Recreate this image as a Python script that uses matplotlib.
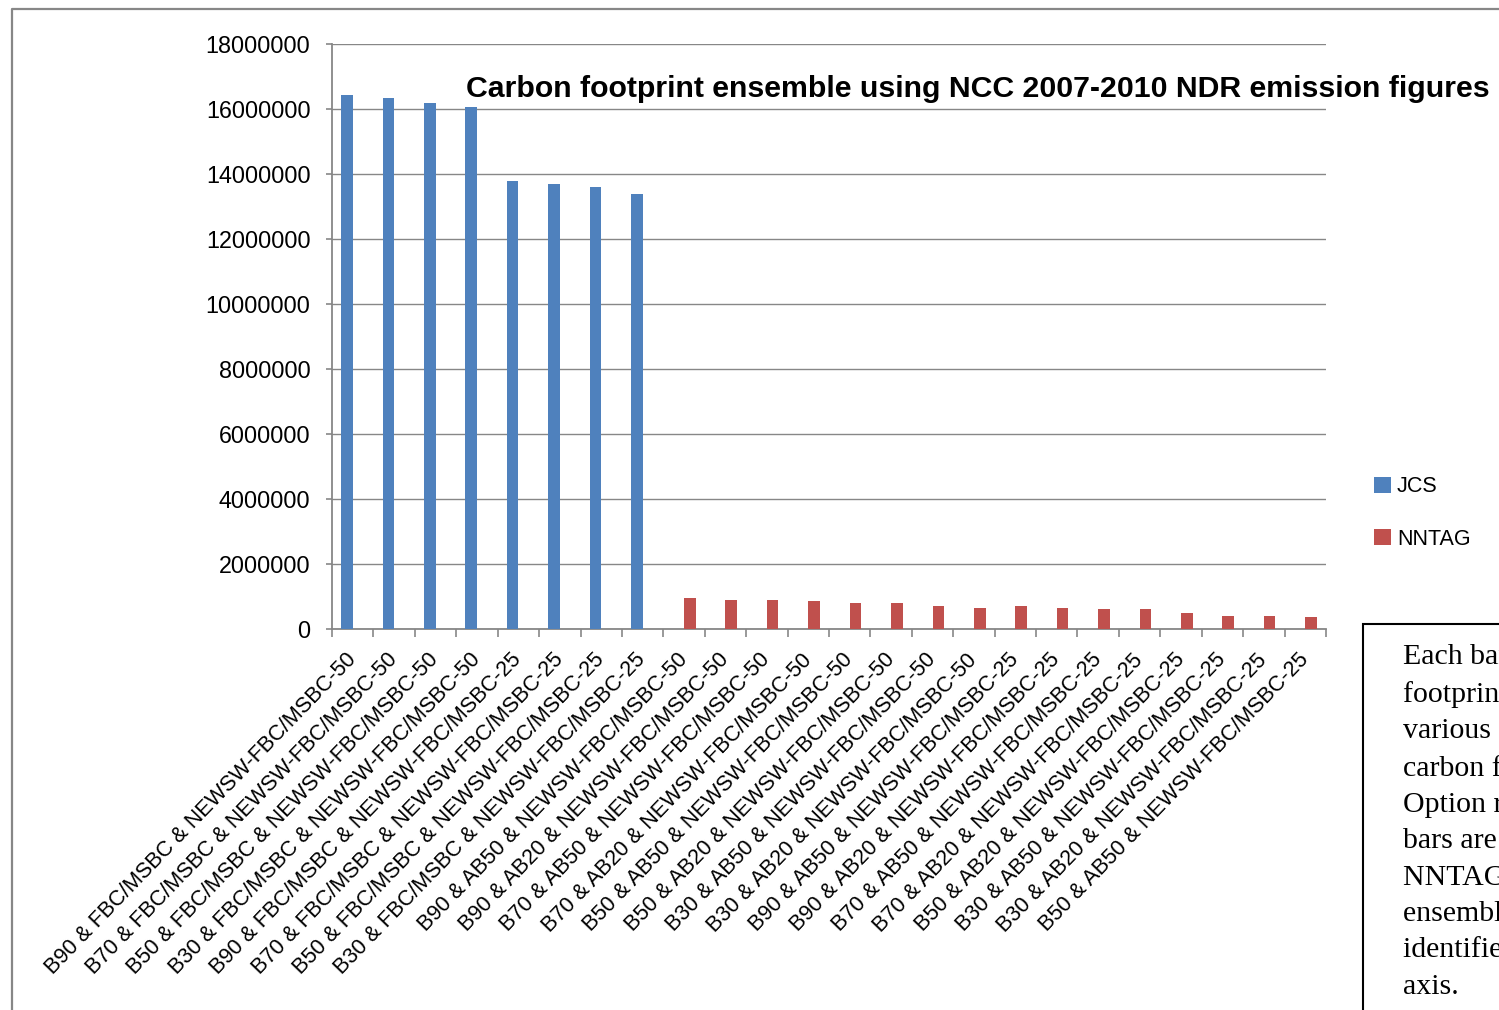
import numpy as np
import matplotlib.pyplot as plt
from matplotlib.patches import Rectangle
from matplotlib.lines import Line2D

plt.rcParams['font.family'] = ['Liberation Sans', 'DejaVu Sans']

# Ensemble members (x axis)
categories = [
    'B90 & FBC/MSBC & NEWSW-FBC/MSBC-50',
    'B70 & FBC/MSBC & NEWSW-FBC/MSBC-50',
    'B50 & FBC/MSBC & NEWSW-FBC/MSBC-50',
    'B30 & FBC/MSBC & NEWSW-FBC/MSBC-50',
    'B90 & FBC/MSBC & NEWSW-FBC/MSBC-25',
    'B70 & FBC/MSBC & NEWSW-FBC/MSBC-25',
    'B50 & FBC/MSBC & NEWSW-FBC/MSBC-25',
    'B30 & FBC/MSBC & NEWSW-FBC/MSBC-25',
    'B90 & AB50 & NEWSW-FBC/MSBC-50',
    'B90 & AB20 & NEWSW-FBC/MSBC-50',
    'B70 & AB50 & NEWSW-FBC/MSBC-50',
    'B70 & AB20 & NEWSW-FBC/MSBC-50',
    'B50 & AB50 & NEWSW-FBC/MSBC-50',
    'B50 & AB20 & NEWSW-FBC/MSBC-50',
    'B30 & AB50 & NEWSW-FBC/MSBC-50',
    'B30 & AB20 & NEWSW-FBC/MSBC-50',
    'B90 & AB50 & NEWSW-FBC/MSBC-25',
    'B90 & AB20 & NEWSW-FBC/MSBC-25',
    'B70 & AB50 & NEWSW-FBC/MSBC-25',
    'B70 & AB20 & NEWSW-FBC/MSBC-25',
    'B50 & AB20 & NEWSW-FBC/MSBC-25',
    'B30 & AB50 & NEWSW-FBC/MSBC-25',
    'B30 & AB20 & NEWSW-FBC/MSBC-25',
    'B50 & AB50 & NEWSW-FBC/MSBC-25',
]

# Carbon footprint per member (JCS option / NNTAG option)
jcs = [16430000, 16330000, 16180000, 16060000, 13780000, 13680000, 13590000, 13370000,
       0, 0, 0, 0, 0, 0, 0, 0, 0, 0, 0, 0, 0, 0, 0, 0]
nntag = [0, 0, 0, 0, 0, 0, 0, 0,
         955000, 894000, 894000, 863000, 800000, 800000, 710000, 650000,
         710000, 650000, 620000, 620000, 490000, 400000, 400000, 370000]

yticks = [0, 2000000, 4000000, 6000000, 8000000, 10000000, 12000000, 14000000, 16000000, 18000000]

title = 'Carbon footprint ensemble using NCC 2007-2010 NDR emission figures'
note_lines = ['Each bar represents the', 'footprint of one of the', 'various ensemble', 'carbon footprint',
              'Option results, the red', 'bars are the', 'NNTAG results of the', 'ensemble members',
              'identified on the x-', 'axis.']

W, H = 1499, 1010
fig = plt.figure(figsize=(W / 100, H / 100), dpi=100)
ax = fig.add_axes([332 / W, 1 - 629 / H, (1326 - 332) / W, (629 - 44) / H])

grey = '#878787'
x = np.arange(len(categories))
bw = 0.28
b1 = ax.bar(x - 0.14, jcs, bw, color='#4F81BD', label='JCS', zorder=3)
b2 = ax.bar(x + 0.14, nntag, bw, color='#C0504D', label='NNTAG', zorder=3)

ax.set_xlim(-0.5, len(categories) - 0.5)
ax.set_ylim(0, 18000000)
ax.set_yticks(yticks)
ax.set_yticklabels([str(v) for v in yticks])
ax.yaxis.grid(True, color=grey, linewidth=1.0, zorder=0)

# tick marks on category boundaries, labels at category centres
ax.set_xticks(np.arange(-0.5, len(categories), 1.0))
ax.set_xticklabels([])
ax.set_xticks(x, minor=True)
ax.set_xticklabels(categories, minor=True, rotation=46, ha='right', va='center',
                   rotation_mode='anchor', fontsize=15.6)
ax.tick_params(axis='x', which='major', length=6, width=1.2, color=grey)
ax.tick_params(axis='x', which='minor', length=0, pad=20)
ax.tick_params(axis='y', length=4.5, width=1.2, color=grey, labelsize=16.8, pad=11)

for s in ['top', 'right']:
    ax.spines[s].set_visible(False)
for s in ['left', 'bottom']:
    ax.spines[s].set_color(grey)
    ax.spines[s].set_linewidth(1.3)

fig.text(466 / W, 1 - 97 / H, title, fontsize=21.8, fontweight='bold', ha='left', va='baseline')

fig.legend(handles=[b1, b2], loc='upper left', bbox_to_anchor=(1355 / W, 1 - 457 / H),
           frameon=False, fontsize=15.5, handlelength=0.75, handleheight=0.75,
           handletextpad=0.3, labelspacing=1.45)

# outer chart border
fig.add_artist(Line2D([12 / W, 12 / W, 1.0], [0.0, 1 - 9 / H, 1 - 9 / H],
                      transform=fig.transFigure, color=grey, linewidth=1.6))

# note box on the right, running off the page edge
fig.add_artist(Rectangle((1363 / W, -0.05), 200 / W, 1.05 - 624 / H, transform=fig.transFigure,
                         fill=False, edgecolor='black', linewidth=1.5))
fig.text(1403 / W, 1 - 644 / H, '\n'.join(note_lines), family=['Liberation Serif'],
         fontsize=21.5, linespacing=1.515, ha='left', va='top')

fig.savefig('out.png', dpi=100)
